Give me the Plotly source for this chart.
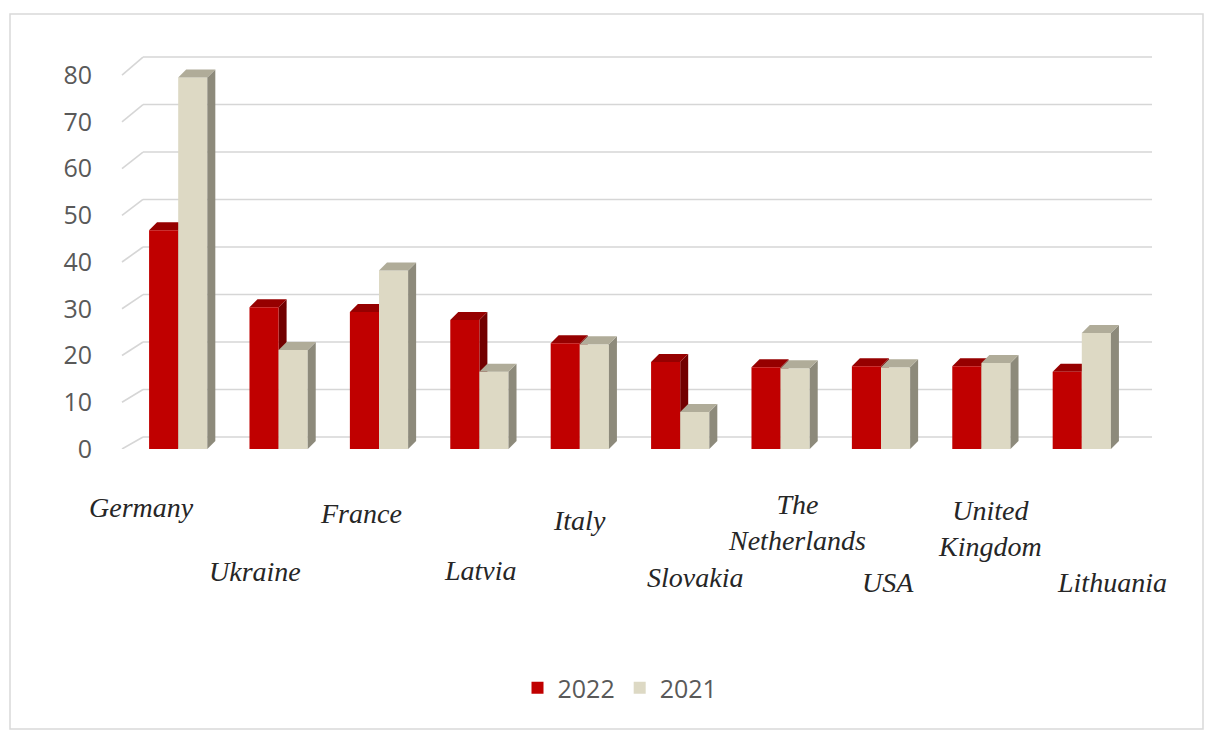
import plotly.graph_objects as go

# ---- data ----
countries = ["Germany", "Ukraine", "France", "Latvia", "Italy", "Slovakia",
             "The<br>Netherlands", "USA", "United<br>Kingdom", "Lithuania"]
values_2022 = [46.8, 30.3, 29.3, 27.6, 22.6, 18.6, 17.5, 17.7, 17.7, 16.5]
values_2021 = [79.5, 21.2, 38.2, 16.5, 22.4, 7.9, 17.3, 17.5, 18.4, 24.8]
y_ticks = [0, 10, 20, 30, 40, 50, 60, 70, 80]

# ---- category label placement (pixel nudges for the staggered labels) ----
label_dx = [-37, -24, -18, 1, 0, 15, 16, 7, 9, 30]
label_dy = [-58, -122, -64, -121, -71, -128, -73, -133, -79, -133]

# ---- layout geometry ----
W, H = 1205, 731
ML, MR, MT, MB = 128, 73, 47, 282
X_RANGE = [-0.5, len(countries) - 0.5]
Y_RANGE = [0, 86]
plot_w = W - ML - MR
plot_h = H - MT - MB
px_per_x = plot_w / (X_RANGE[1] - X_RANGE[0])
px_per_y = plot_h / (Y_RANGE[1] - Y_RANGE[0])

BAR_W = 0.29
DEPTH_PX = 8
dxu = DEPTH_PX / px_per_x
dyu = DEPTH_PX / px_per_y

RED = dict(front="#C00000", top="#960000", side="#720000")
BEIGE = dict(front="#DDD9C4", top="#B0AC99", side="#8D8A7B")


def paper_x(px):
    return (px - ML) / plot_w


def paper_y(py):
    return 1 - (py - MT) / plot_h


idx = list(range(len(countries)))
xs = [float(i) for i in idx]

fig = go.Figure()
fig.add_trace(go.Bar(x=xs, y=values_2022, name="2022", width=BAR_W, offset=-BAR_W,
                     marker=dict(color=RED["front"], line=dict(width=0))))
fig.add_trace(go.Bar(x=xs, y=values_2021, name="2021", width=BAR_W, offset=0,
                     marker=dict(color=BEIGE["front"], line=dict(width=0))))

shapes = []

# back-wall gridlines with the short perspective connectors at the left
for v in y_ticks:
    off = 12 + 0.075 * v
    shapes.append(dict(type="line", xref="paper", yref="y", layer="between",
                       x0=paper_x(143), x1=paper_x(1152),
                       ysizemode="pixel", yanchor=v, y0=off, y1=off,
                       line=dict(color="#D6D6D6", width=1.6)))
    shapes.append(dict(type="path", xref="paper", yref="y", layer="between",
                       xsizemode="pixel", xanchor=0, ysizemode="pixel", yanchor=v,
                       path=f"M -6,0 L 15,{off:.1f}",
                       line=dict(color="#D6D6D6", width=1.6)))


def box_faces(x_left, val, colors, layer):
    x_right = x_left + BAR_W
    side = (f"M {x_right},0 L {x_right},{val} L {x_right + dxu},{val + dyu} "
            f"L {x_right + dxu},{dyu} Z")
    top = (f"M {x_left},{val} L {x_right},{val} L {x_right + dxu},{val + dyu} "
           f"L {x_left + dxu},{val + dyu} Z")
    return [
        dict(type="path", xref="x", yref="y", layer=layer, path=side,
             fillcolor=colors["side"], line=dict(width=0)),
        dict(type="path", xref="x", yref="y", layer=layer, path=top,
             fillcolor=colors["top"], line=dict(width=0)),
    ]


for i in idx:
    shapes += box_faces(i - BAR_W, values_2022[i], RED, "between")
for i in idx:
    shapes += box_faces(i, values_2021[i], BEIGE, "above")

# outer chart frame
shapes.append(dict(type="rect", xref="paper", yref="paper", layer="below",
                   x0=paper_x(10), x1=paper_x(1203), y0=paper_y(729), y1=paper_y(14),
                   line=dict(color="#D9D9D9", width=1.5), fillcolor="rgba(0,0,0,0)"))

annotations = []
for i, name in enumerate(countries):
    annotations.append(dict(x=xs[i], y=0, xref="x", yref="y", text=name,
                            showarrow=False, xshift=label_dx[i], yshift=label_dy[i],
                            xanchor="center", yanchor="middle", align="center",
                            font=dict(family="Liberation Serif", size=28,
                                      color="#262626", style="italic")))

fig.update_layout(
    width=W, height=H,
    margin=dict(l=ML, r=MR, t=MT, b=MB),
    paper_bgcolor="white", plot_bgcolor="white",
    barmode="overlay",
    showlegend=True,
    legend=dict(orientation="h", xref="container", yref="container",
                x=620 / W, y=1 - 688 / H, xanchor="center", yanchor="middle",
                itemwidth=30, font=dict(family="Open Sans", size=25, color="#595959"),
                bgcolor="rgba(0,0,0,0)"),
    xaxis=dict(range=X_RANGE, showticklabels=False, showgrid=False,
               zeroline=False, showline=False, ticks=""),
    yaxis=dict(range=Y_RANGE, tickvals=y_ticks, showgrid=False, zeroline=False,
               showline=False, ticks="", ticklabelstandoff=35,
               tickfont=dict(family="Open Sans", size=25, color="#595959")),
    shapes=shapes,
    annotations=annotations,
)

fig.write_html("out.html")
